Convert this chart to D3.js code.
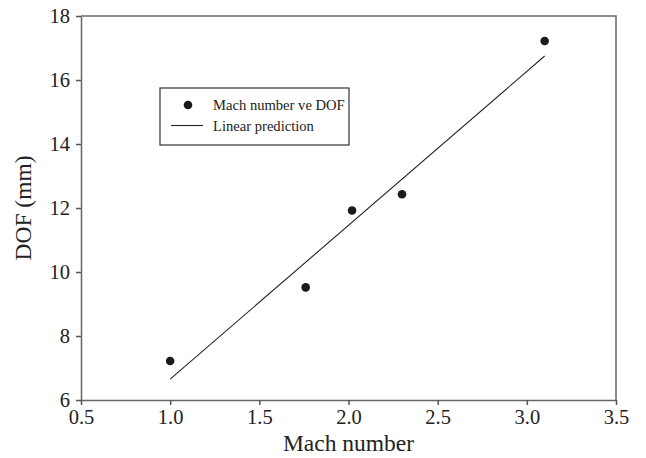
<!DOCTYPE html>
<html>
<head>
<meta charset="utf-8">
<script src="https://cdn.jsdelivr.net/npm/d3@7"></script>
<style>
  body { margin: 0; background: #fff; }
</style>
</head>
<body>
<div id="chart"></div>
<script>
// Measured points
var machNumbers = [1.0, 1.76, 2.02, 2.30, 3.10];
var dofValues = [7.22, 9.52, 11.92, 12.43, 17.22];

// Linear prediction (end points of the fitted line)
var fitX = [1.0, 3.1];
var fitY = [6.65, 16.75];

var xTicks = [0.5, 1.0, 1.5, 2.0, 2.5, 3.0, 3.5];
var yTicks = [6, 8, 10, 12, 14, 16, 18];

var legendLabels = ["Mach number ve DOF", "Linear prediction"];

var serif = "'Liberation Serif', 'Times New Roman', Times, 'DejaVu Serif', serif";

var width = 646, height = 458;
var margin = {top: 16, right: 30, bottom: 58, left: 81};

var svg = d3.select("#chart").append("svg")
    .attr("width", width)
    .attr("height", height)
    .style("font-family", serif);

var x = d3.scaleLinear().domain([0.5, 3.5]).range([margin.left, width - margin.right]);
var y = d3.scaleLinear().domain([6, 18]).range([height - margin.bottom, margin.top]);

// frame (top + right)
svg.append("path")
    .attr("d", "M" + x(0.5) + "," + y(18) + "H" + x(3.5) + "V" + y(6))
    .attr("fill", "none")
    .attr("stroke", "#666")
    .attr("stroke-width", 1.5);

var xAxis = svg.append("g")
    .attr("transform", "translate(0," + y(6) + ")")
    .call(d3.axisBottom(x).tickValues(xTicks).tickFormat(d3.format(".1f")).tickSize(5).tickSizeOuter(0).tickPadding(4));

var yAxis = svg.append("g")
    .attr("transform", "translate(" + x(0.5) + ",0)")
    .call(d3.axisLeft(y).tickValues(yTicks).tickFormat(d3.format("d")).tickSize(5).tickSizeOuter(0).tickPadding(6));

[xAxis, yAxis].forEach(function(a) {
  a.attr("font-family", null).attr("font-size", null);
  a.select(".domain").attr("stroke", "#666").attr("stroke-width", 1.5);
  a.selectAll(".tick line").attr("stroke", "#555").attr("stroke-width", 1.5);
  a.selectAll("text")
      .style("font-family", serif)
      .style("font-size", "20.5px")
      .attr("fill", "#222");
});
yAxis.selectAll("text").attr("dy", "0.34em");

// axis titles
svg.append("text")
    .attr("x", (x(0.5) + x(3.5)) / 2)
    .attr("y", 451)
    .attr("text-anchor", "middle")
    .attr("fill", "#222")
    .style("font-family", serif)
    .style("font-size", "23.5px")
    .text("Mach number");

svg.append("text")
    .attr("transform", "translate(31," + (y(6) + y(18)) / 2 + ") rotate(-90)")
    .attr("text-anchor", "middle")
    .attr("fill", "#222")
    .style("font-family", serif)
    .style("font-size", "23.5px")
    .text("DOF (mm)");

// linear prediction
var line = d3.line()
    .x(function(d) { return x(d[0]); })
    .y(function(d) { return y(d[1]); });

svg.append("path")
    .datum(d3.zip(fitX, fitY))
    .attr("d", line)
    .attr("fill", "none")
    .attr("stroke", "#222")
    .attr("stroke-width", 1.1);

// points
svg.selectAll("circle.pt")
    .data(d3.zip(machNumbers, dofValues))
    .enter().append("circle")
    .attr("class", "pt")
    .attr("cx", function(d) { return x(d[0]); })
    .attr("cy", function(d) { return y(d[1]); })
    .attr("r", 4.3)
    .attr("fill", "#1a1a1a");

// legend
var lg = svg.append("g").attr("transform", "translate(160,88)");
lg.append("rect")
    .attr("width", 189)
    .attr("height", 57)
    .attr("fill", "#fff")
    .attr("stroke", "#333")
    .attr("stroke-width", 1.2);

lg.append("circle").attr("cx", 28).attr("cy", 17).attr("r", 4.3).attr("fill", "#1a1a1a");
lg.append("line")
    .attr("x1", 11).attr("x2", 43).attr("y1", 37.5).attr("y2", 37.5)
    .attr("stroke", "#222").attr("stroke-width", 1.1);

lg.selectAll("text.lab")
    .data(legendLabels)
    .enter().append("text")
    .attr("class", "lab")
    .attr("x", 53)
    .attr("y", function(d, i) { return 17 + i * 20.5; })
    .attr("dy", "0.35em")
    .attr("fill", "#222")
    .style("font-family", serif)
    .style("font-size", "14.6px")
    .text(function(d) { return d; });
</script>
</body>
</html>
